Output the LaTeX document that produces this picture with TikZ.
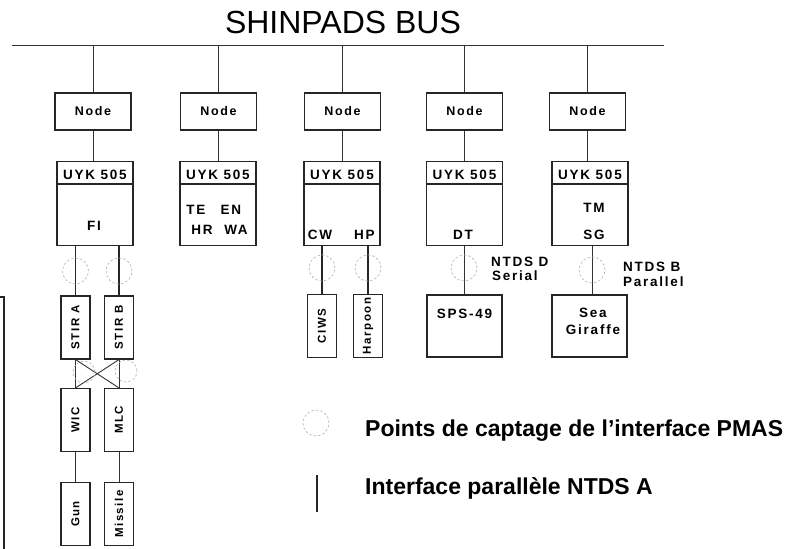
\documentclass[tikz,border=0pt]{standalone}
\usepackage{fontspec}
\setmainfont{Liberation Sans}
\newfontfamily\lab[LetterSpace=13,UprightFont={* Bold}]{Liberation Sans}
\begin{document}
\begin{tikzpicture}[x=1pt,y=-1pt,
  box/.style={draw=black!85,line width=1.1pt,inner sep=0pt,rectangle},
  nodebox/.style={box,minimum width=76pt,minimum height=37pt,font=\lab\fontsize{12.5}{14}\selectfont},
  uykbox/.style={box,minimum width=76pt,minimum height=84pt},
  vbox/.style={box,minimum width=29pt,minimum height=63pt},
  bigbox/.style={box,minimum width=75pt,minimum height=62pt},
  lbl/.style={font=\lab\fontsize{13.5}{15}\selectfont,inner sep=0pt,anchor=base},
  vlbl/.style={font=\lab\fontsize{11.5}{13}\selectfont,inner sep=0pt,anchor=center,rotate=90},
  wire/.style={draw=black!80,line width=0.9pt},
  heavywire/.style={draw=black!85,line width=1.6pt},
  pmas/.style={draw=black!30,line width=0.6pt,dash pattern=on 2.5pt off 2pt},
  legend/.style={font=\bfseries\fontsize{23}{27}\selectfont,inner sep=0pt,anchor=base west}
]
\useasboundingbox (0,0) rectangle (807,549);

% title and bus
\node[font=\fontsize{32}{36}\selectfont,inner sep=0pt,anchor=base] (title) at (343,33) {SHINPADS BUS};
\coordinate (busL) at (12,45);
\coordinate (busR) at (664,45);
\draw[wire] (busL) -- (busR);

% Node boxes
\node[nodebox] (n1) at (93,111.5) {Node};
\node[nodebox] (n2) at (218.5,111.5) {Node};
\node[nodebox] (n3) at (342.5,111.5) {Node};
\node[nodebox] (n4) at (464.5,111.5) {Node};
\node[nodebox] (n5) at (587.5,111.5) {Node};
\foreach \n in {n1,n2,n3,n4,n5}{
  \draw[wire] (\n.north |- busL) -- (\n.north);
}

% UYK boxes
\node[uykbox] (u1) at (95,203.5) {};
\node[uykbox] (u2) at (218,203.5) {};
\node[uykbox] (u3) at (342,203.5) {};
\node[uykbox] (u4) at (464.5,203.5) {};
\node[uykbox] (u5) at (590,203.5) {};
\foreach \u/\n in {u1/n1,u2/n2,u3/n3,u4/n4,u5/n5}{
  \draw[box] ([yshift=-23pt]\u.north west) -- ([yshift=-23pt]\u.north east);
  \node[lbl] at ([yshift=-19pt]\u.north) {UYK 505};
  \draw[wire] (\n.south) -- (\n.south |- \u.north);
}

% texts inside UYK boxes
\node[lbl] (fi) at (94,230.5) {FI};
\node[lbl] (te) at (196,214.5) {TE};
\node[lbl] (en) at (231,214.5) {EN};
\node[lbl] (hr) at (202,234.5) {HR};
\node[lbl] (wa) at (236,234.5) {WA};
\node[lbl] (cw) at (320,239.5) {CW};
\node[lbl] (hp) at (364.5,239.5) {HP};
\node[lbl] (dt) at (463,239.5) {DT};
\node[lbl] (tm) at (594,212.5) {TM};
\node[lbl] (sg) at (594,239.5) {SG};

% column 1 : STIR / WIC / MLC / Gun / Missile
\node[vbox] (sa) at (75.5,327.5) {};
\node[vbox] (sb) at (119,327.5) {};
\node[vbox] (wic) at (75.5,420) {};
\node[vbox] (mlc) at (119,420) {};
\node[vbox] (gun) at (75.5,514) {};
\node[vbox] (mis) at (119,514) {};
\node[vlbl] at (sa) {STIR A};
\node[vlbl] at (sb) {STIR B};
\node[vlbl] at (wic) {WIC};
\node[vlbl] at (mlc) {MLC};
\node[vlbl] at (gun) {Gun};
\node[vlbl] at (mis) {Missile};
\draw[heavywire] (sa.north |- u1.south) -- (sa.north);
\draw[heavywire] (sb.north |- u1.south) -- (sb.north);
\draw[wire] (sa.south) -- (wic.north);
\draw[wire] (sb.south) -- (mlc.north);
\draw[wire] (sa.south) -- (mlc.north);
\draw[wire] (sb.south) -- (wic.north);
\draw[wire] (wic.south) -- (gun.north);
\draw[wire] (mlc.south) -- (mis.north);
\draw[pmas] (75.5,271) circle[radius=13pt];
\draw[pmas] (119,271) circle[radius=13pt];
\draw[pmas] (84,372) circle[radius=11pt];
\draw[pmas] (126,371) circle[radius=11pt];

% column 3 : CIWS / Harpoon
\node[vbox] (ciws) at (322,326) {};
\node[vbox] (harp) at (368,326) {};
\node[vlbl] at (ciws) {CIWS};
\node[vlbl] at (harp) {Harpoon};
\draw[heavywire] (ciws.north |- u3.south) -- (ciws.north);
\draw[heavywire] (harp.north |- u3.south) -- (harp.north);
\draw[pmas] (322,268) circle[radius=13pt];
\draw[pmas] (368,268) circle[radius=13pt];

% column 4 : SPS-49
\node[bigbox] (sps) at (464.5,326) {};
\node[lbl] at (464.5,318.5) {SPS-49};
\draw[wire] (sps.north |- u4.south) -- (sps.north);
\draw[pmas] (464,268) circle[radius=13pt];
\node[lbl,anchor=base west] (ntdsd) at (491,266) {NTDS D};
\node[lbl,anchor=base west] (serial) at (492,280) {Serial};

% column 5 : Sea Giraffe
\node[bigbox] (sea) at (589.5,326) {};
\node[lbl] at (593,317.5) {Sea};
\node[lbl] at (593,334) {Giraffe};
\draw[wire] (592,246) coordinate (s5) -- (s5 |- sea.north);
\draw[pmas] (592,270) circle[radius=13pt];
\node[lbl,anchor=base west] (ntdsb) at (623,271) {NTDS B};
\node[lbl,anchor=base west] (par) at (623,286) {Parallel};

% left cut-off frame
\draw[draw=black!85,line width=2pt] (0,297) -- (4,297) -- (4,549);

% legend
\draw[pmas] (316,423) circle[radius=13pt];
\node[legend] (leg1) at (365,436) {Points de captage de l’interface PMAS};
\draw[draw=black!85,line width=1.8pt] (317,475) -- (317,512);
\node[legend] (leg2) at (365,494) {Interface parallèle NTDS A};
\end{tikzpicture}
\end{document}
